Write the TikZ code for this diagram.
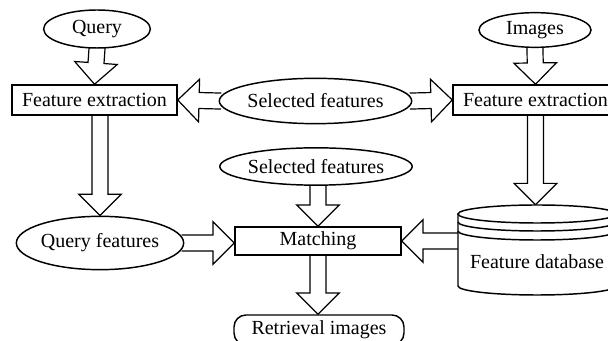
\documentclass[tikz,border=0pt]{standalone}
\usepackage{fontspec}
\setmainfont{Liberation Serif}
\usetikzlibrary{calc,shapes.geometric,backgrounds}
\begin{document}
\begin{tikzpicture}[x=0.75pt,y=-0.75pt,
  every node/.style={font=\fontsize{15}{17}\selectfont},
  ell/.style={draw,ellipse,line width=1.1pt,inner sep=0pt,fill=white},
  box/.style={draw,rectangle,line width=1.1pt,inner sep=0pt,fill=white},
  fat/.style={draw,line width=0.9pt,line join=miter,
    to path={
      ($(\tikztostart)!-2pt!(\tikztotarget)!6pt!90:(\tikztotarget)$)
      -- ($(\tikztotarget)!16pt!(\tikztostart)!6pt!-90:(\tikztostart)$)
      -- ($(\tikztotarget)!16pt!(\tikztostart)!16pt!-90:(\tikztostart)$)
      -- (\tikztotarget)
      -- ($(\tikztotarget)!16pt!(\tikztostart)!16pt!90:(\tikztostart)$)
      -- ($(\tikztotarget)!16pt!(\tikztostart)!6pt!90:(\tikztostart)$)
      -- ($(\tikztostart)!-2pt!(\tikztotarget)!6pt!-90:(\tikztotarget)$)
    }}]
\useasboundingbox (0,0) rectangle (608,341);
\clip (0,0) rectangle (608,341);

% nodes
\node[ell,minimum width=80pt,minimum height=28.5pt] (q) at (97,29) {Query};
\node[box,minimum width=123.75pt,minimum height=22.5pt] (fe1) at (94.5,100) {Feature extraction};
\node[ell,minimum width=131pt,minimum height=34pt] (sf1) at (315.5,101) {Selected features};
\node[box,minimum width=123.75pt,minimum height=22.5pt] (fe2) at (535.5,100) {Feature extraction};
\node[ell,minimum width=84pt,minimum height=26pt] (im) at (535,30) {Images};
\node[ell,minimum width=129pt,minimum height=28pt] (sf2) at (316,166.5) {Selected features};
\node[ell,minimum width=115.5pt,minimum height=40pt] (qf) at (100,243) {Query features};
\node[box,minimum width=124.5pt,minimum height=21pt] (m) at (318,241) {Matching};
\node[box,rounded corners=9pt,minimum width=127.5pt,minimum height=22.5pt] (ri) at (319,330) {Retrieval images};

% database (cylinder)
\node[minimum width=118.5pt,minimum height=67.5pt,inner sep=0pt] (db) at (537,250) {};
\draw[line width=1.1pt,fill=white] (458,214) -- (458,286)
  arc[start angle=180,end angle=360,x radius=59.25pt,y radius=6.75pt] -- (616,214);
\draw[line width=1.1pt,fill=white] (537,214) ellipse [x radius=59.25pt,y radius=6.75pt];
\draw[line width=1.1pt] (458,222) arc[start angle=180,end angle=360,x radius=59.25pt,y radius=6.75pt];
\draw[line width=1.1pt] (458,231) arc[start angle=180,end angle=360,x radius=59.25pt,y radius=6.75pt];
\node (dbt) at (537,262) {Feature database};

% fat arrows
\begin{scope}[on background layer]
\draw[fat] (q.south) to (fe1.north);
\draw[fat] (sf1.west) to (fe1.east);
\draw[fat] (sf1.east) to (fe2.west);
\draw[fat] (im.south) to (fe2.north);
\draw[fat] (fe2.south) to (fe2.south |- db.north);
\draw[fat] (qf.north |- fe1.south) to (qf.north);
\draw[fat] (m.north |- sf2.south) to (m.north);
\draw[fat] (qf.east) to (m.west |- qf.east);
\draw[fat] (db.west |- m.east) to (m.east);
\draw[fat] (m.south) to (m.south |- ri.north);
\end{scope}
\end{tikzpicture}
\end{document}
